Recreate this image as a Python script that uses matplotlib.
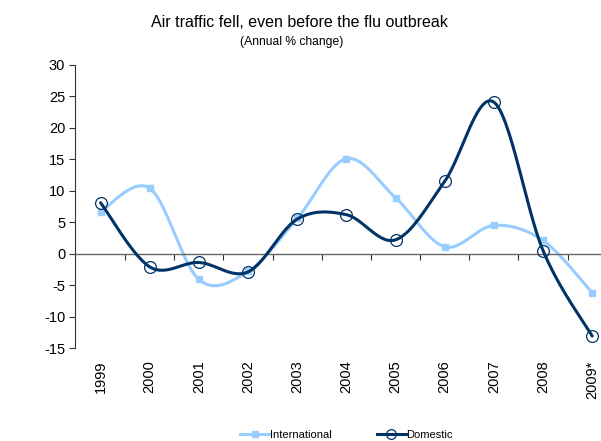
import numpy as np
import matplotlib
matplotlib.use("Agg")
import matplotlib.pyplot as plt
from matplotlib.lines import Line2D

years = ["1999", "2000", "2001", "2002", "2003", "2004", "2005", "2006", "2007", "2008", "2009*"]
international = [6.7, 10.4, -4.1, -2.8, 5.6, 15.1, 8.9, 1.1, 4.5, 2.1, -6.2]
domestic = [8.1, -2.1, -1.4, -2.9, 5.5, 6.2, 2.2, 11.5, 24.1, 0.5, -13.1]

INT_COLOR = "#99CCFF"
DOM_COLOR = "#003366"

plt.rcParams['font.family'] = ['Liberation Sans', 'DejaVu Sans']
plt.rcParams['axes.unicode_minus'] = False


def smooth(xs, ys, n=30):
    """Excel-style smoothed line (Catmull-Rom Bezier)."""
    xs = np.asarray(xs, float)
    ys = np.asarray(ys, float)
    P = np.column_stack([xs, ys])
    out = []
    for i in range(len(P) - 1):
        p0 = P[i - 1] if i > 0 else P[i]
        p1 = P[i]
        p2 = P[i + 1]
        p3 = P[i + 2] if i + 2 < len(P) else P[i + 1]
        c1 = p1 + (p2 - p0) / 6.0
        c2 = p2 - (p3 - p1) / 6.0
        t = np.linspace(0, 1, n)[:, None]
        seg = ((1 - t) ** 3) * p1 + 3 * ((1 - t) ** 2) * t * c1 + 3 * (1 - t) * t ** 2 * c2 + t ** 3 * p2
        out.append(seg if i == 0 else seg[1:])
    s = np.vstack(out)
    return s[:, 0], s[:, 1]


fig = plt.figure(figsize=(6.01, 4.41), dpi=100)
ax = fig.add_axes([75 / 601, (441 - 348) / 441, 1 - 75 / 601, (348 - 65) / 441])

x = np.arange(len(years))

sx, sy = smooth(x, international)
ax.plot(sx, sy, color=INT_COLOR, lw=2.2, solid_capstyle='round', zorder=2)
ax.plot(x, international, ls='none', marker='s', ms=4.5, color=INT_COLOR, zorder=3)

sx, sy = smooth(x, domestic)
ax.plot(sx, sy, color=DOM_COLOR, lw=2.2, solid_capstyle='round', zorder=4)
ax.plot(x, domestic, ls='none', marker='o', ms=8.5, mfc='none', mec=DOM_COLOR, mew=0.9, zorder=5)

ax.set_yticks(np.arange(-15, 31, 5))
ax.tick_params(axis='y', direction='out', length=4, width=0.8, color='#333333', labelsize=10.5, pad=3)

for s in ['top', 'right']:
    ax.spines[s].set_visible(False)
ax.spines['left'].set_color('#333333')
ax.spines['left'].set_linewidth(0.8)
ax.spines['bottom'].set_position(('data', 0))
ax.spines['bottom'].set_color('#666666')
ax.spines['bottom'].set_linewidth(1.0)

ax.set_xticks(x + 0.5, minor=True)
ax.set_xticks(x)
ax.set_xticklabels([])
ax.tick_params(axis='x', which='major', length=0)
ax.tick_params(axis='x', which='minor', direction='out', length=4, width=0.8, color='#333333')

ax.set_xlim(-0.52, 10.18)
ax.set_ylim(-15, 30)

for i, lab in enumerate(years):
    ax.annotate(lab, xy=(i, 0), xycoords=('data', 'axes fraction'), xytext=(0, -9),
                textcoords='offset points', rotation=90, ha='center', va='top', fontsize=10.5,
                annotation_clip=False)

fig.text(0.499, 0.95, "Air traffic fell, even before the flu outbreak", ha='center', va='center', fontsize=11.5)
fig.text(0.485, 0.905, "(Annual % change)", ha='center', va='center', fontsize=8.7)

handles = [
    Line2D([], [], color=INT_COLOR, lw=2.2, marker='s', ms=4.5),
    Line2D([], [], color=DOM_COLOR, lw=2.2, marker='o', ms=7, mfc='none', mew=0.9),
]
fig.legend(handles, ["International", "Domestic"], loc='center', bbox_to_anchor=(0.577, 0.013),
           ncol=2, frameon=False, fontsize=8, handlelength=2.6, handletextpad=0.1, columnspacing=4.0)

fig.savefig("out.png", dpi=100)
